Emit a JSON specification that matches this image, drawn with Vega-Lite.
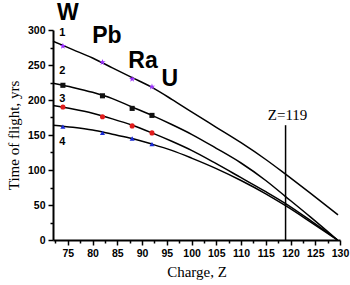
{
  "$schema": "https://vega.github.io/schema/vega-lite/v6.json",
  "width": 287,
  "height": 210,
  "autosize": "none",
  "padding": {"left": 53, "top": 30, "right": 10, "bottom": 45},
  "background": "white",
  "config": {"view": {"stroke": null}},
  "datasets": {
    "curves": [
      {"curve": "1", "Z": 72, "T": 284}, {"curve": "1", "Z": 76, "T": 272}, {"curve": "1", "Z": 80, "T": 260}, {"curve": "1", "Z": 84, "T": 246}, {"curve": "1", "Z": 88, "T": 232}, {"curve": "1", "Z": 92, "T": 218}, {"curve": "1", "Z": 96, "T": 201}, {"curve": "1", "Z": 100, "T": 183}, {"curve": "1", "Z": 105, "T": 161}, {"curve": "1", "Z": 110, "T": 139}, {"curve": "1", "Z": 115, "T": 115}, {"curve": "1", "Z": 119, "T": 94}, {"curve": "1", "Z": 124, "T": 67}, {"curve": "1", "Z": 129.6, "T": 36},
      {"curve": "2", "Z": 72, "T": 224}, {"curve": "2", "Z": 76, "T": 218}, {"curve": "2", "Z": 80, "T": 211}, {"curve": "2", "Z": 84, "T": 202}, {"curve": "2", "Z": 88, "T": 190}, {"curve": "2", "Z": 92, "T": 178}, {"curve": "2", "Z": 96, "T": 165}, {"curve": "2", "Z": 100, "T": 151}, {"curve": "2", "Z": 105, "T": 131}, {"curve": "2", "Z": 110, "T": 110}, {"curve": "2", "Z": 115, "T": 85}, {"curve": "2", "Z": 119, "T": 62}, {"curve": "2", "Z": 124, "T": 33}, {"curve": "2", "Z": 129.5, "T": 0},
      {"curve": "3", "Z": 72, "T": 192}, {"curve": "3", "Z": 76, "T": 187}, {"curve": "3", "Z": 80, "T": 181}, {"curve": "3", "Z": 84, "T": 173}, {"curve": "3", "Z": 88, "T": 164}, {"curve": "3", "Z": 92, "T": 153}, {"curve": "3", "Z": 96, "T": 141}, {"curve": "3", "Z": 100, "T": 128}, {"curve": "3", "Z": 105, "T": 109}, {"curve": "3", "Z": 110, "T": 89}, {"curve": "3", "Z": 115, "T": 69}, {"curve": "3", "Z": 119, "T": 52}, {"curve": "3", "Z": 124, "T": 28}, {"curve": "3", "Z": 129.5, "T": 0},
      {"curve": "4", "Z": 72, "T": 164}, {"curve": "4", "Z": 76, "T": 161}, {"curve": "4", "Z": 80, "T": 157}, {"curve": "4", "Z": 84, "T": 151}, {"curve": "4", "Z": 88, "T": 145}, {"curve": "4", "Z": 92, "T": 137}, {"curve": "4", "Z": 96, "T": 128}, {"curve": "4", "Z": 100, "T": 117}, {"curve": "4", "Z": 105, "T": 102}, {"curve": "4", "Z": 110, "T": 85}, {"curve": "4", "Z": 115, "T": 66}, {"curve": "4", "Z": 119, "T": 49}, {"curve": "4", "Z": 124, "T": 26}, {"curve": "4", "Z": 129.5, "T": 0}
    ],
    "markers": [
      {"curve": "1", "Z": 74, "T": 277}, {"curve": "1", "Z": 82, "T": 254}, {"curve": "1", "Z": 88, "T": 230}, {"curve": "1", "Z": 92, "T": 219},
      {"curve": "2", "Z": 74, "T": 221}, {"curve": "2", "Z": 82, "T": 206}, {"curve": "2", "Z": 88, "T": 188}, {"curve": "2", "Z": 92, "T": 178},
      {"curve": "3", "Z": 74, "T": 190}, {"curve": "3", "Z": 82, "T": 176}, {"curve": "3", "Z": 88, "T": 163}, {"curve": "3", "Z": 92, "T": 153},
      {"curve": "4", "Z": 74, "T": 162}, {"curve": "4", "Z": 82, "T": 153}, {"curve": "4", "Z": 88, "T": 145}, {"curve": "4", "Z": 92, "T": 137}
    ],
    "elements": [
      {"label": "W", "Z": 75, "T": 314},
      {"label": "Pb", "Z": 82.9, "T": 282},
      {"label": "Ra", "Z": 90.2, "T": 246},
      {"label": "U", "Z": 95.6, "T": 220}
    ],
    "numbers": [
      {"label": "1", "Z": 73.9, "T": 296},
      {"label": "2", "Z": 73.9, "T": 241},
      {"label": "3", "Z": 73.9, "T": 201},
      {"label": "4", "Z": 73.9, "T": 140}
    ],
    "rule": [{"Z": 119, "lo": 0, "hi": 164, "label": "Z=119", "ty": 179}],
    "minor": [
      {"Z": 72.5, "T": 25}, {"Z": 130, "T": 275}
    ]
  },
  "resolve": {"axis": {"x": "independent", "y": "independent"}},
  "layer": [
    {
      "data": {"name": "curves"},
      "mark": {"type": "line", "color": "black", "strokeWidth": 1.5, "interpolate": "monotone"},
      "encoding": {
        "x": {
          "field": "Z", "type": "quantitative",
          "scale": {"domain": [72, 130], "nice": false, "zero": false},
          "axis": {
            "orient": "bottom",
            "values": [75, 80, 85, 90, 95, 100, 105, 110, 115, 120, 125, 130],
            "title": "Charge, Z",
            "grid": false,
            "domainColor": "black", "domainWidth": 2,
            "tickColor": "black", "tickWidth": 1.5, "tickSize": 5,
            "labelFont": "Liberation Sans", "labelFontWeight": "bold", "labelFontSize": 10.5, "labelColor": "black", "labelPadding": 3,
            "labelFlush": false, "labelOverlap": false,
            "titleFont": "Liberation Serif", "titleFontWeight": "normal", "titleFontSize": 15, "titleColor": "black", "titlePadding": 6
          }
        },
        "y": {
          "field": "T", "type": "quantitative",
          "scale": {"domain": [0, 300], "nice": false},
          "axis": {
            "orient": "left",
            "values": [0, 50, 100, 150, 200, 250, 300],
            "title": "Time of flight, yrs",
            "grid": false,
            "domainColor": "black", "domainWidth": 2,
            "tickColor": "black", "tickWidth": 1.5, "tickSize": 5,
            "labelFont": "Liberation Sans", "labelFontWeight": "bold", "labelFontSize": 10.5, "labelColor": "black", "labelPadding": 3,
            "labelFlush": false, "labelOverlap": false,
            "titleFont": "Liberation Serif", "titleFontWeight": "normal", "titleFontSize": 15, "titleColor": "black", "titlePadding": 6
          }
        },
        "detail": {"field": "curve"}
      }
    },
    {
      "data": {"name": "minor"},
      "mark": {"type": "point", "opacity": 0},
      "encoding": {
        "x": {
          "field": "Z", "type": "quantitative",
          "axis": {
            "orient": "bottom",
            "values": [72.5, 77.5, 82.5, 87.5, 92.5, 97.5, 102.5, 107.5, 112.5, 117.5, 122.5, 127.5],
            "title": null, "labels": false, "domain": false, "grid": false,
            "tickColor": "black", "tickWidth": 1.5, "tickSize": 3
          }
        },
        "y": {
          "field": "T", "type": "quantitative",
          "axis": {
            "orient": "left",
            "values": [25, 75, 125, 175, 225, 275],
            "title": null, "labels": false, "domain": false, "grid": false,
            "tickColor": "black", "tickWidth": 1.5, "tickSize": 3
          }
        }
      }
    },
    {
      "data": {"name": "markers"},
      "mark": {"type": "point", "filled": true, "size": 26, "opacity": 1},
      "encoding": {
        "x": {"field": "Z", "type": "quantitative", "axis": null},
        "y": {"field": "T", "type": "quantitative", "axis": null},
        "color": {"field": "curve", "type": "nominal", "scale": {"domain": ["1", "2", "3", "4"], "range": ["#9b30ff", "#111111", "#e01c1c", "#1a2bd6"]}, "legend": null},
        "shape": {"field": "curve", "type": "nominal", "scale": {"domain": ["1", "2", "3", "4"], "range": ["M0,-1.3L0.3,-0.42L1.23,-0.4L0.49,0.16L0.77,1.05L0,0.52L-0.77,1.05L-0.49,0.16L-1.23,-0.4L-0.3,-0.42Z", "square", "circle", "triangle-up"]}, "legend": null}
      }
    },
    {
      "data": {"name": "rule"},
      "mark": {"type": "rule", "color": "black", "strokeWidth": 1.5},
      "encoding": {
        "x": {"field": "Z", "type": "quantitative", "axis": null},
        "y": {"field": "lo", "type": "quantitative", "axis": null},
        "y2": {"field": "hi"}
      }
    },
    {
      "data": {"name": "rule"},
      "mark": {"type": "text", "font": "Liberation Serif", "fontSize": 15, "color": "black", "align": "center", "baseline": "middle", "dx": 2},
      "encoding": {
        "x": {"field": "Z", "type": "quantitative", "axis": null},
        "y": {"field": "ty", "type": "quantitative", "axis": null},
        "text": {"field": "label"}
      }
    },
    {
      "data": {"name": "elements"},
      "mark": {"type": "text", "font": "Liberation Sans", "fontWeight": "bold", "fontSize": 23, "color": "black", "align": "center", "baseline": "alphabetic"},
      "encoding": {
        "x": {"field": "Z", "type": "quantitative", "axis": null},
        "y": {"field": "T", "type": "quantitative", "axis": null},
        "text": {"field": "label"}
      }
    },
    {
      "data": {"name": "numbers"},
      "mark": {"type": "text", "font": "Liberation Sans", "fontWeight": "bold", "fontSize": 11, "color": "black", "align": "center", "baseline": "middle"},
      "encoding": {
        "x": {"field": "Z", "type": "quantitative", "axis": null},
        "y": {"field": "T", "type": "quantitative", "axis": null},
        "text": {"field": "label"}
      }
    }
  ]
}
